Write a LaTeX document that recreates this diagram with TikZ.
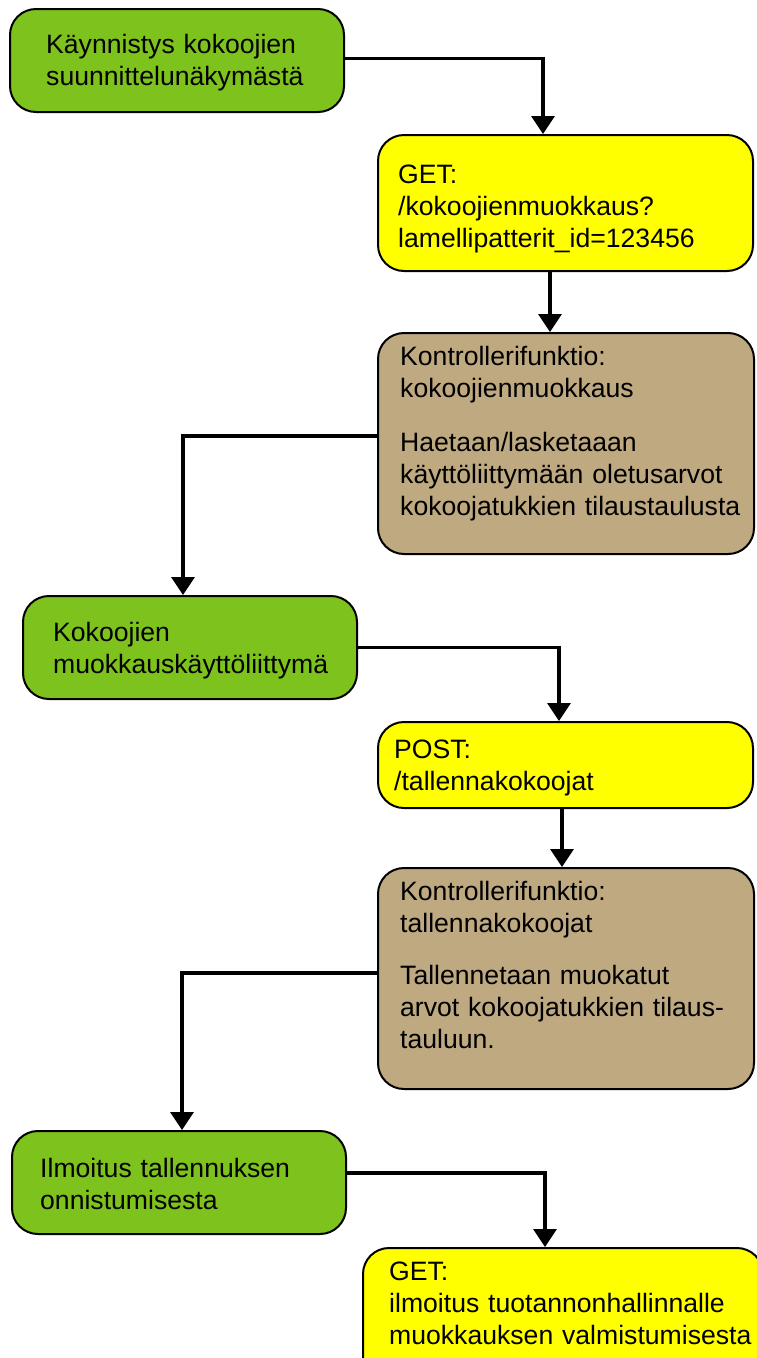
\documentclass[tikz,border=0pt]{standalone}
\usepackage{fontspec}
\setmainfont{Liberation Sans}
\usetikzlibrary{arrows.meta}

\definecolor{stepgreen}{RGB}{126,194,30}
\definecolor{reqyellow}{RGB}{255,255,0}
\definecolor{ctrltan}{RGB}{191,169,128}

\tikzset{
  box/.style={draw=black, line width=2pt, rounded corners=26pt, anchor=north west, inner sep=0pt},
  greenbox/.style={box, fill=stepgreen, minimum width=334pt, minimum height=103pt},
  yellowbox/.style={box, fill=reqyellow, minimum width=375pt},
  tanbox/.style={box, fill=ctrltan, minimum width=376pt, minimum height=221pt},
  label/.style={anchor=base west, inner sep=0pt, text width=380pt, align=left,
    font=\fontsize{26.6pt}{32pt}\selectfont},
  conn/.style={draw=black, line width=3.4pt, -{Triangle[width=23pt,length=18pt]}},
}

\begin{document}
\begin{tikzpicture}[x=1pt,y=-1pt]
  \clip (0,0) rectangle (757,1358);

  % boxes
  \node[greenbox] (start) at (9,8) {};
  \node[yellowbox, minimum height=136pt] (get1) at (377,134) {};
  \node[tanbox] (ctrl1) at (377,332) {};
  \node[greenbox] (edit) at (22,595) {};
  \node[yellowbox, minimum height=86pt] (post) at (377,721) {};
  \node[tanbox] (ctrl2) at (377,867) {};
  \node[greenbox] (notify) at (11,1130) {};
  \node[yellowbox, minimum width=400pt, minimum height=140pt] (get2) at (362,1247) {};

  % texts
  \node[label] (startT) at (46,53) {Käynnistys kokoojien\\suunnittelunäkymästä};
  \node[label] (get1T) at (398,183) {GET:\\/kokoojienmuokkaus?\\lamellipatterit\_id=123456};
  \node[label] (ctrl1T) at (400,365) {Kontrollerifunktio:\\kokoojienmuokkaus\\[22pt]Haetaan/lasketaaan\\käyttöliittymään oletusarvot\\kokoojatukkien tilaustaulusta};
  \node[label] (editT) at (53,641) {Kokoojien\\muokkauskäyttöliittymä};
  \node[label] (postT) at (394,758) {POST:\\/tallennakokoojat};
  \node[label] (ctrl2T) at (400,900) {Kontrollerifunktio:\\tallennakokoojat\\[20pt]Tallennetaan muokatut\\arvot kokoojatukkien tilaus-\\tauluun.};
  \node[label] (notifyT) at (40,1177) {Ilmoitus tallennuksen\\onnistumisesta};
  \node[label] (get2T) at (389,1280) {GET:\\ilmoitus tuotannonhallinnalle\\muokkauksen valmistumisesta};

  % connectors
  \draw[conn] ([yshift=2pt]start.east) -| ([xshift=166pt]get1.north west);
  \draw[conn] ([xshift=173pt]get1.south west) -- ([xshift=173pt]ctrl1.north west);
  \draw[conn] ([yshift=7.5pt]ctrl1.west) -| ([xshift=161pt]edit.north west);
  \draw[conn] (edit.east) -| ([xshift=182pt]post.north west);
  \draw[conn] ([xshift=185pt]post.south west) -- ([xshift=185pt]ctrl2.north west);
  \draw[conn] ([yshift=5.5pt]ctrl2.west) -| ([xshift=171pt]notify.north west);
  \draw[conn] ([yshift=9.5pt]notify.east) -| ([xshift=183pt]get2.north west);
\end{tikzpicture}
\end{document}
